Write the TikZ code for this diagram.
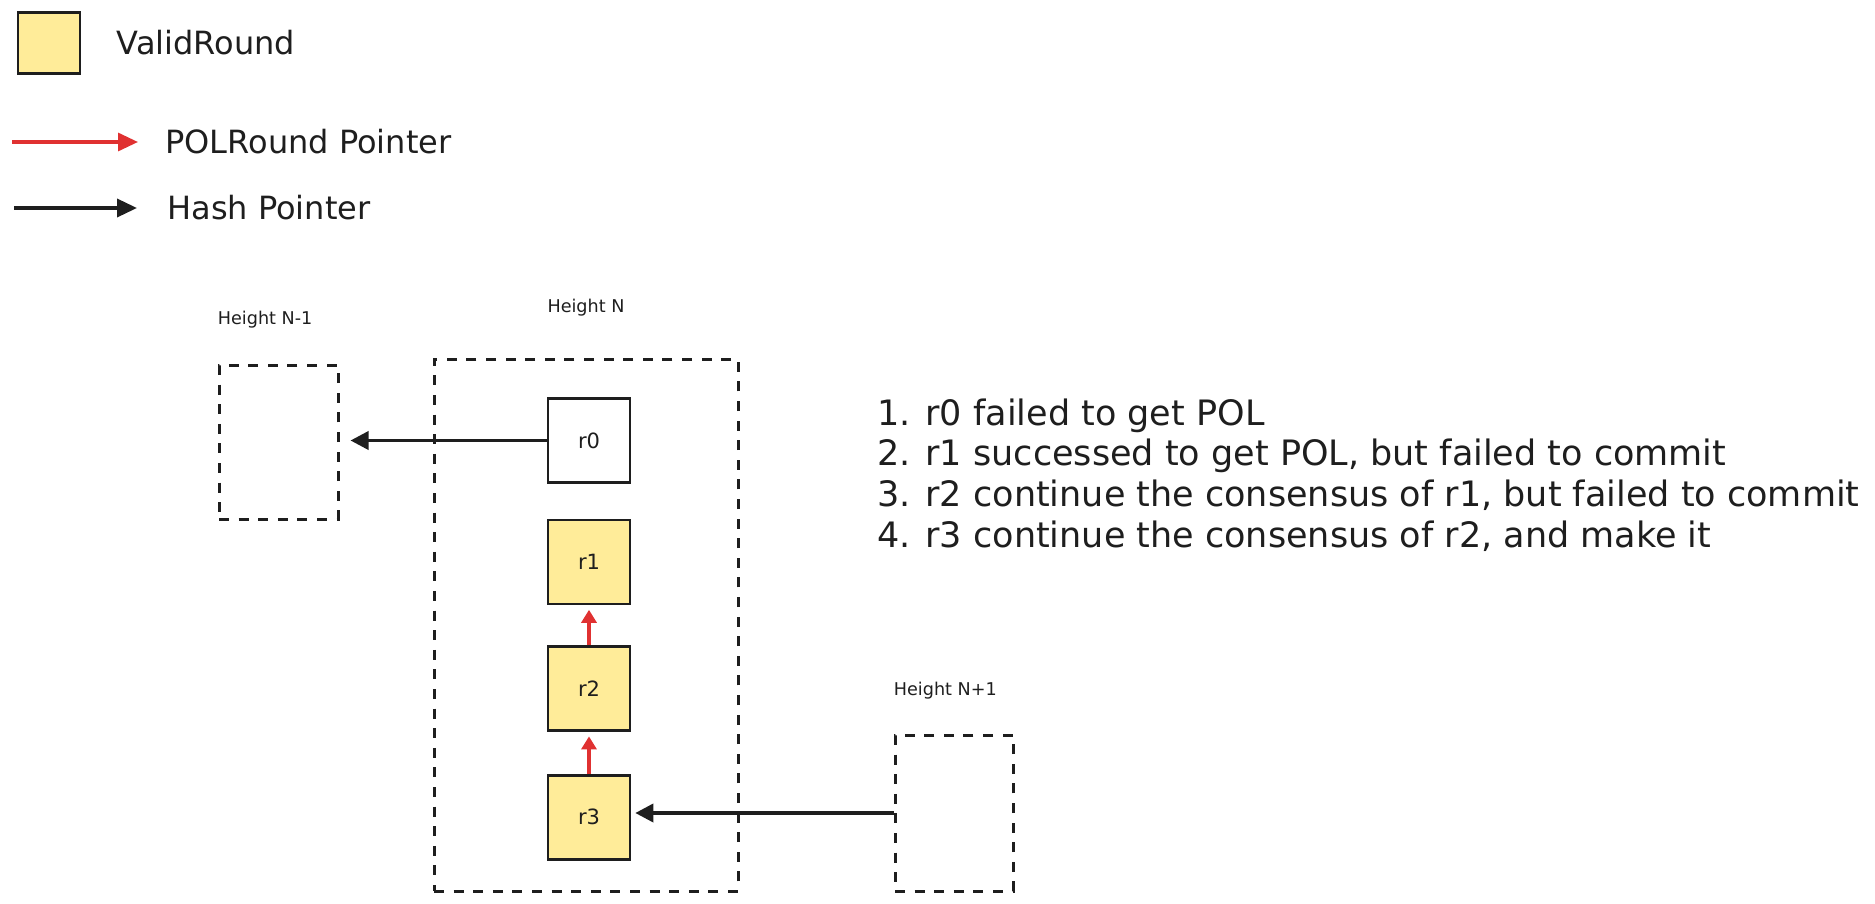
\documentclass[tikz,border=0pt]{standalone}
\usepackage{fontspec}
\setmainfont{DejaVu Sans}
\usetikzlibrary{arrows.meta,positioning}
\definecolor{exyellow}{RGB}{255,236,153}
\definecolor{exred}{RGB}{224,49,49}
\definecolor{exblack}{RGB}{30,30,30}

\begin{document}
\begin{tikzpicture}[x=0.5pt, y=-0.5pt, color=exblack,
        font=\fontsize{16}{19}\selectfont,
        rnd/.style={draw=exblack, line width=1.3pt, minimum width=41pt, minimum height=42pt,
            inner sep=0pt, font=\fontsize{10.5}{12}\selectfont},
        valid/.style={rnd, fill=exyellow},
        hgt/.style={draw=exblack, dash pattern=on 5pt off 4.8pt, line width=1.5pt, inner sep=0pt},
        lbl/.style={font=\fontsize{8.8}{10}\selectfont, inner sep=0pt},
        txt/.style={inner sep=0pt, anchor=west},
        hash/.style={-{Triangle[length=9pt,width=9pt]}, line width=1.8pt, draw=exblack},
        pol/.style={-{Triangle[length=6.5pt,width=7.5pt]}, line width=1.6pt, draw=exred}]
        \useasboundingbox (0,0) rectangle (1875,904);
        % legend
        \node[valid, minimum width=31pt, minimum height=30.5pt] (key) at (49,43) {};
        \node[txt, right=17.5pt of key] (keytxt) {ValidRound};
        \coordinate (pa) at (12,142);  \coordinate (pb) at (138,142);
        \coordinate (ha) at (14,208);  \coordinate (hb) at (137,208);
        \draw[pol, -{Triangle[length=10pt,width=9pt]}] (pa) -- (pb);
        \draw[hash, -{Triangle[length=10pt,width=9pt]}] (ha) -- (hb);
        \node[txt, right=13.5pt of pb] (poltxt) {POLRound Pointer};
        \node[txt, right=15pt of hb] (hashtxt) {Hash Pointer};
        % heights
        \node[hgt, minimum width=59.5pt, minimum height=77pt] (hm1) at (278.5,442) {};
        \node[hgt, minimum width=152pt, minimum height=266pt] (hn) at (586,625) {};
        \node[hgt, minimum width=59pt, minimum height=78pt] (hp1) at (954,813) {};
        \node[lbl, above=19.3pt of hm1.north west, anchor=base west] (hm1lbl) {Height N-1};
        \node[lbl, above=22.3pt of hn.north, anchor=base] (hnlbl) {Height N};
        \node[lbl, above=18.8pt of hp1.north west, anchor=base west] (hp1lbl) {Height N+1};
        % rounds
        \node[rnd] (r0) at (589,440.5) {r0};
        \node[valid, below=17.5pt of r0] (r1) {r1};
        \node[valid, below=20pt of r1] (r2) {r2};
        \node[valid, below=21pt of r2] (r3) {r3};
        \draw[hash, shorten >=5.5pt] (r0.west) -- (r0.west -| hm1.east);
        \draw[hash, shorten >=2pt] (hp1.west) -- (hp1.west -| r3.east);
        \draw[pol, shorten >=2.2pt] (r2) -- (r1);
        \draw[pol, shorten >=2.2pt] (r3) -- (r2);
        \node[txt, align=left, font=\fontsize{17.5}{20.3}\selectfont] (notes) at (877,475)
            {1. r0 failed to get POL\\
             2. r1 successed to get POL, but failed to commit\\
             3. r2 continue the consensus of r1, but failed to commit\\
             4. r3 continue the consensus of r2, and make it};
\end{tikzpicture}
\end{document}
